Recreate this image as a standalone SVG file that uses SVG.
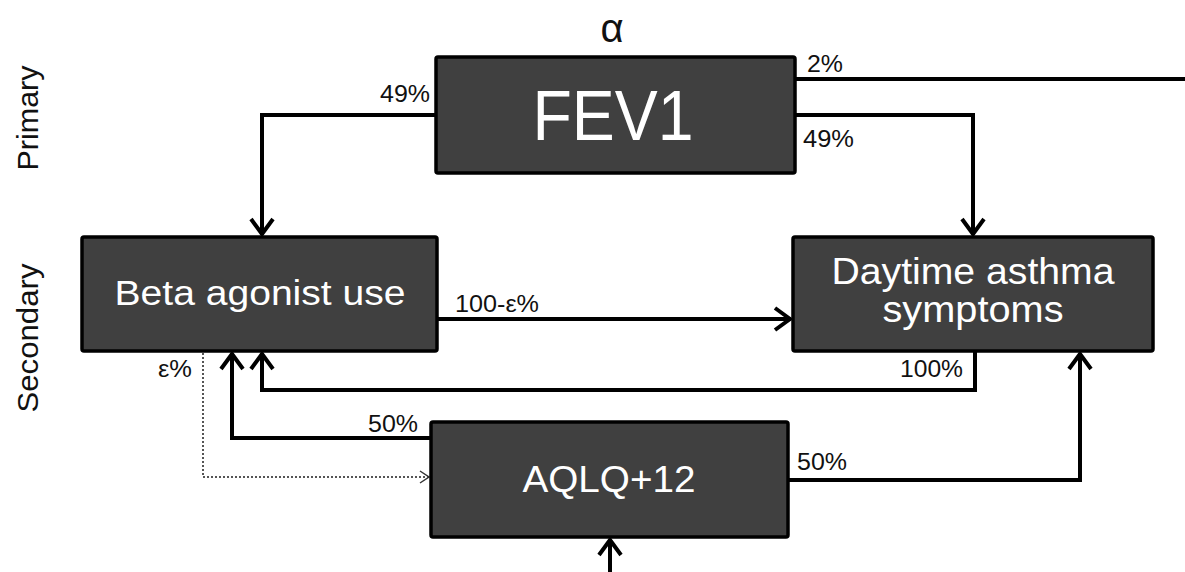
<svg xmlns="http://www.w3.org/2000/svg" width="1185" height="572" viewBox="0 0 1185 572">
<style>
.box{fill:#404040;stroke:#000;stroke-width:3.5}
.bt{fill:#fff;font-family:"Liberation Sans",Arial,sans-serif;text-anchor:middle}
.lbl{fill:#111;font-family:"Liberation Sans",Arial,sans-serif;font-size:23px}
.side{fill:#111;font-family:"Liberation Sans",Arial,sans-serif;font-size:29px;text-anchor:middle}
.ln{fill:none;stroke:#000;stroke-width:4;stroke-linejoin:miter}
.dot{fill:none;stroke:#555;stroke-width:2;stroke-dasharray:2 2}
</style>
<defs>
<marker id="ah" markerUnits="userSpaceOnUse" markerWidth="30" markerHeight="30" viewBox="-20 -15 24 30" refX="1" refY="0" orient="auto">
<path d="M-15,-11 L0,0 L-15,11" fill="none" stroke="#000" stroke-width="4"/>
</marker>
<marker id="ahs" markerUnits="userSpaceOnUse" markerWidth="16" markerHeight="16" viewBox="-12 -8 14 16" refX="0" refY="0" orient="auto">
<path d="M-9,-6 L0,0 L-9,6" fill="none" stroke="#333" stroke-width="1.5"/>
</marker>
</defs>
<rect width="1185" height="572" fill="#fff"/>
<text class="side" transform="translate(38,118) rotate(-90)" textLength="105" lengthAdjust="spacingAndGlyphs">Primary</text>
<text class="side" transform="translate(38,338) rotate(-90)" textLength="149" lengthAdjust="spacingAndGlyphs">Secondary</text>
<g id="connectors">
<path class="ln" d="M436,115 H262 V235" marker-end="url(#ah)"/>
<path class="ln" d="M795,115 H973 V235" marker-end="url(#ah)"/>
<path class="ln" d="M795,79 H1185"/>
<path class="ln" d="M437,319 H791" marker-end="url(#ah)"/>
<path class="ln" d="M975,351 V390 H262 V353" marker-end="url(#ah)"/>
<path class="ln" d="M431,438 H232 V353" marker-end="url(#ah)"/>
<path class="ln" d="M788,480 H1080 V353" marker-end="url(#ah)"/>
<path class="ln" d="M610,572 V539" marker-end="url(#ah)"/>
<path class="dot" d="M203,353 V477 H429" marker-end="url(#ahs)"/>
<text class="lbl" x="430" y="102" text-anchor="end" textLength="50" lengthAdjust="spacingAndGlyphs">49%</text>
<text class="lbl" x="807" y="72" textLength="36" lengthAdjust="spacingAndGlyphs">2%</text>
<text class="lbl" x="803" y="147" textLength="51" lengthAdjust="spacingAndGlyphs">49%</text>
<text class="lbl" x="455" y="312" textLength="84" lengthAdjust="spacingAndGlyphs">100-ε%</text>
<text class="lbl" x="963" y="377" text-anchor="end" textLength="63" lengthAdjust="spacingAndGlyphs">100%</text>
<text class="lbl" x="192" y="377" text-anchor="end" textLength="34" lengthAdjust="spacingAndGlyphs">ε%</text>
<text class="lbl" x="418" y="432" text-anchor="end" textLength="50" lengthAdjust="spacingAndGlyphs">50%</text>
<text class="lbl" x="797" y="470" textLength="50" lengthAdjust="spacingAndGlyphs">50%</text>
<text x="612" y="42" fill="#111" font-family="'Liberation Sans',Arial,sans-serif" font-size="40" text-anchor="middle">α</text>
</g>
<g id="fev1">
<rect class="box" x="436" y="57" width="359" height="116" rx="2"/>
<text class="bt" x="613" y="140" font-size="70" textLength="161" lengthAdjust="spacingAndGlyphs">FEV1</text>
</g>
<g id="beta">
<rect class="box" x="82" y="237" width="355" height="114" rx="2"/>
<text class="bt" x="260" y="305" font-size="35" textLength="291" lengthAdjust="spacingAndGlyphs">Beta agonist use</text>
</g>
<g id="daytime">
<rect class="box" x="793" y="237" width="360" height="114" rx="2"/>
<text class="bt" x="973" y="284" font-size="36" textLength="283" lengthAdjust="spacingAndGlyphs">Daytime asthma</text>
<text class="bt" x="973" y="322" font-size="36" textLength="181" lengthAdjust="spacingAndGlyphs">symptoms</text>
</g>
<g id="aqlq">
<rect class="box" x="431" y="422" width="357" height="115" rx="2"/>
<text class="bt" x="609" y="492" font-size="37" textLength="173" lengthAdjust="spacingAndGlyphs">AQLQ+12</text>
</g>
</svg>
